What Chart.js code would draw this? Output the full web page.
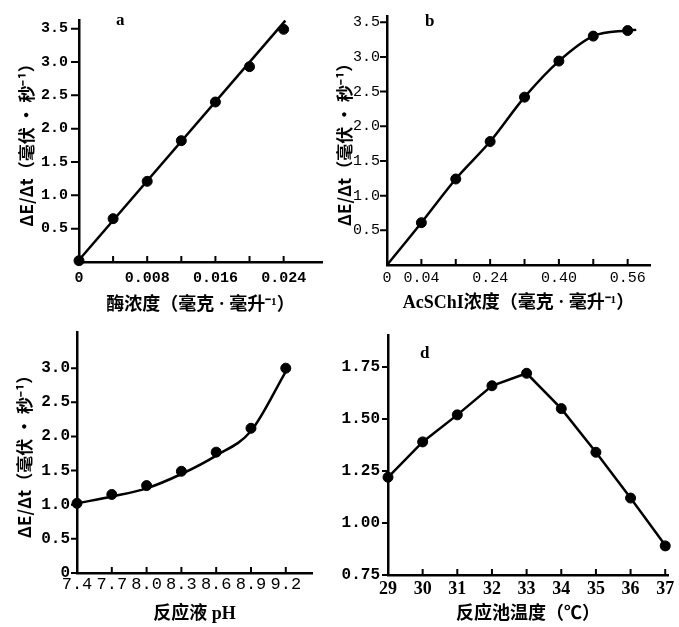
<!DOCTYPE html>
<html><head><meta charset="utf-8">
<script src="https://cdn.jsdelivr.net/npm/chart.js@4.4.0/dist/chart.umd.min.js"></script>
<style>
body{margin:0;background:#fff;width:679px;height:627px;position:relative;overflow:hidden}
canvas{position:absolute}
.lbl{position:absolute;font:bold 17px "Liberation Serif";color:#000;line-height:17px}
</style></head><body>
<canvas id="ca" width="340" height="313" style="left:0;top:0"></canvas>
<canvas id="cb" width="345" height="313" style="left:334px;top:0"></canvas>
<canvas id="cc" width="340" height="314" style="left:0;top:313px"></canvas>
<canvas id="cd" width="339" height="314" style="left:340px;top:313px"></canvas>
<div class="lbl" style="left:116px;top:11px">a</div>
<div class="lbl" style="left:425px;top:12px">b</div>
<div class="lbl" style="left:420px;top:344px">d</div>
<script>
// ---- Panel a: enzyme concentration ----
const aPtX = [0, 0.004, 0.008, 0.012, 0.016, 0.020, 0.024];
const aPtY = [0.02, 0.65, 1.21, 1.82, 2.40, 2.93, 3.49];
const aLineX = [0, 0.0242];
const aLineY = [0.03, 3.62];
const aXTicks = [0, 0.004, 0.008, 0.012, 0.016, 0.020, 0.024];
const aXLabels = ['0', '', '0.008', '', '0.016', '', '0.024'];
const aYTicks = [0.5, 1.0, 1.5, 2.0, 2.5, 3.0, 3.5];
const aYLabels = ['0.5', '1.0', '1.5', '2.0', '2.5', '3.0', '3.5'];

// ---- Panel b: AcSChI concentration ----
const bPtX = [0.08, 0.16, 0.24, 0.32, 0.40, 0.48, 0.56];
const bPtY = [0.61, 1.24, 1.78, 2.42, 2.94, 3.30, 3.38];
const bLineX = [0, 0.08, 0.16, 0.24, 0.32, 0.40, 0.48, 0.56, 0.58];
const bLineY = [0, 0.61, 1.24, 1.78, 2.42, 2.94, 3.30, 3.38, 3.39];
const bXTicks = [0, 0.08, 0.16, 0.24, 0.32, 0.40, 0.48, 0.56];
const bXLabels = ['0', '0.04', '', '0.24', '', '0.40', '', '0.56'];
const bYTicks = [0.5, 1.0, 1.5, 2.0, 2.5, 3.0, 3.5];
const bYLabels = ['0.5', '1.0', '1.5', '2.0', '2.5', '3.0', '3.5'];

// ---- Panel c: pH ----
const cPtX = [7.4, 7.7, 8.0, 8.3, 8.6, 8.9, 9.2];
const cPtY = [1.02, 1.15, 1.28, 1.49, 1.77, 2.12, 3.0];
const cLineX = [7.4, 7.7, 8.0, 8.3, 8.6, 8.9, 9.2];
const cLineY = [1.02, 1.12, 1.24, 1.45, 1.72, 2.08, 2.95];
const cXTicks = [7.4, 7.7, 8.0, 8.3, 8.6, 8.9, 9.2];
const cXLabels = ['7.4', '7.7', '8.0', '8.3', '8.6', '8.9', '9.2'];
const cYTicks = [0, 0.5, 1.0, 1.5, 2.0, 2.5, 3.0];
const cYLabels = ['0', '0.5', '1.0', '1.5', '2.0', '2.5', '3.0'];

// ---- Panel d: temperature ----
const dPtX = [29, 30, 31, 32, 33, 34, 35, 36, 37];
const dPtY = [1.22, 1.39, 1.52, 1.66, 1.72, 1.55, 1.34, 1.12, 0.89];
const dLineX = [29, 30, 31, 32, 33, 34, 35, 36, 37.1];
const dLineY = [1.22, 1.39, 1.52, 1.66, 1.72, 1.55, 1.34, 1.12, 0.87];
const dXTicks = [29, 30, 31, 32, 33, 34, 35, 36, 37];
const dXLabels = ['29', '30', '31', '32', '33', '34', '35', '36', '37'];
const dYTicks = [0.75, 1.00, 1.25, 1.50, 1.75];
const dYLabels = ['0.75', '1.00', '1.25', '1.50', '1.75'];

const yTitle = 'ΔE/Δt（毫伏 · 秒⁻¹）';

function zip(xs, ys) { return xs.map((x, i) => ({x: x, y: ys[i]})); }

// inward x tick marks, outward y tick marks, drawn at the scales' own tick positions
const tickMarks = {
  id: 'tickMarks',
  afterDraw(chart, args, opts) {
    const ctx = chart.ctx, xs = chart.scales.x, ys = chart.scales.y;
    ctx.save();
    ctx.strokeStyle = '#000';
    ctx.lineWidth = 2;
    ctx.beginPath();
    xs.ticks.forEach(t => {
      const px = xs.getPixelForValue(t.value);
      ctx.moveTo(px, xs.top); ctx.lineTo(px, xs.top - opts.xLen);
    });
    ys.ticks.forEach(t => {
      const py = ys.getPixelForValue(t.value);
      ctx.moveTo(ys.right, py); ctx.lineTo(ys.right - opts.yLen, py);
    });
    ctx.stroke();
    ctx.restore();
  }
};

function panel(id, o) {
  const titleFont = {family: '"Liberation Serif", "Noto Sans CJK SC"', size: 18, weight: 'bold'};
  new Chart(document.getElementById(id), {
    type: 'scatter',
    data: {datasets: [
      {type: 'line', data: zip(o.lineX, o.lineY), borderColor: '#000', borderWidth: 2.5,
       pointRadius: 0, tension: o.tension, cubicInterpolationMode: o.mode || 'default', clip: false, fill: false},
      {data: zip(o.ptX, o.ptY), backgroundColor: '#000', borderColor: '#000', pointRadius: 5, showLine: false, clip: false}
    ]},
    plugins: [tickMarks],
    options: {
      responsive: false, animation: false, devicePixelRatio: 1,
      plugins: {legend: {display: false}, tooltip: {enabled: false}, tickMarks: {xLen: 6, yLen: o.yTL}},
      layout: {padding: o.pad},
      scales: {
        x: {
          type: 'linear', min: o.xMin, max: o.xMax,
          afterFit: s => { s.height = o.xH; },
          afterBuildTicks: s => { s.ticks = o.xTicks.map(v => ({value: v})); },
          ticks: {callback: (v, i) => o.xLabels[i], autoSkip: false, maxRotation: 0, minRotation: 0,
                  font: o.xFont, color: '#000', padding: o.xPadT},
          grid: {drawOnChartArea: false, drawTicks: false},
          border: {color: '#000', width: 2.5},
          title: {display: true, text: o.xTitle, font: titleFont, color: '#000',
                  padding: {top: 0, bottom: o.xTitlePad}}
        },
        y: {
          type: 'linear', min: o.yMin, max: o.yMax,
          afterFit: s => { s.width = o.yW; },
          afterBuildTicks: s => { s.ticks = o.yTicks.map(v => ({value: v})); },
          ticks: {callback: (v, i) => o.yLabels[i], autoSkip: false,
                  font: {family: '"Liberation Mono"', size: o.yFontSize || 15, weight: o.yWeight || 'bold'}, color: '#000', padding: o.yPadT},
          grid: {drawOnChartArea: false, drawTicks: false},
          border: {color: '#000', width: 2.5},
          title: {display: !!o.yTitle, text: o.yTitle, font: {family: '"Noto Sans CJK SC"', size: 17, weight: 'bold'},
                  color: '#000', padding: {top: o.yTitlePad, bottom: 0}}
        }
      }
    }
  });
}

const monoX = {family: '"Liberation Mono"', size: 15, weight: 'bold'};

panel('ca', {ptX: aPtX, ptY: aPtY, lineX: aLineX, lineY: aLineY, tension: 0,
  xMin: 0, xMax: 0.0285, yMin: 0, yMax: 3.63, xTicks: aXTicks, xLabels: aXLabels, yTicks: aYTicks, yLabels: aYLabels,
  pad: {left: 0, top: 12, right: 18, bottom: 0}, xH: 51, yW: 79, xFont: monoX, xPadT: 7,
  yTL: 8, yPadT: 11, xTitle: '酶浓度（毫克 · 毫升⁻¹）', xTitlePad: -3, yTitle: yTitle, yTitlePad: 16});

panel('cb', {ptX: bPtX, ptY: bPtY, lineX: bLineX, lineY: bLineY, tension: 0.4, mode: 'monotone',
  xMin: 0, xMax: 0.612, yMin: 0, yMax: 3.59, xTicks: bXTicks, xLabels: bXLabels, yTicks: bYTicks, yLabels: bYLabels,
  pad: {left: 0, top: 15, right: 29, bottom: 0}, xH: 48, yW: 53,
  xFont: {family: '"Liberation Mono"', size: 15}, xPadT: 4,
  yTL: 7, yPadT: 7, yWeight: 'normal', xTitle: 'AcSChI浓度（毫克 · 毫升⁻¹）', xTitlePad: -1, yTitle: yTitle, yTitlePad: 0});

panel('cc', {ptX: cPtX, ptY: cPtY, lineX: cLineX, lineY: cLineY, tension: 0.4, mode: 'monotone',
  xMin: 7.4, xMax: 9.426, yMin: 0, yMax: 3.53, xTicks: cXTicks, xLabels: cXLabels, yTicks: cYTicks, yLabels: cYLabels,
  pad: {left: 0, top: 19, right: 28, bottom: 0}, xH: 54, yW: 77,
  xFont: {family: '"Liberation Mono"', size: 17}, xPadT: 1,
  yTL: 6, yPadT: 7, yFontSize: 16, xTitle: '反应液 pH', xTitlePad: 2, yTitle: yTitle, yTitlePad: 14});

panel('cd', {ptX: dPtX, ptY: dPtY, lineX: dLineX, lineY: dLineY, tension: 0,
  xMin: 29, xMax: 37.08, yMin: 0.75, yMax: 1.904, xTicks: dXTicks, xLabels: dXLabels, yTicks: dYTicks, yLabels: dYLabels,
  pad: {left: 0, top: 22, right: 11, bottom: 0}, xH: 52, yW: 48,
  xFont: {family: '"Liberation Serif"', size: 18, weight: 'bold'}, xPadT: 4,
  yTL: 6, yPadT: 8, yFontSize: 16, xTitle: '反应池温度（℃）', xTitlePad: 2, yTitle: '', yTitlePad: 0});
</script>
</body></html>
